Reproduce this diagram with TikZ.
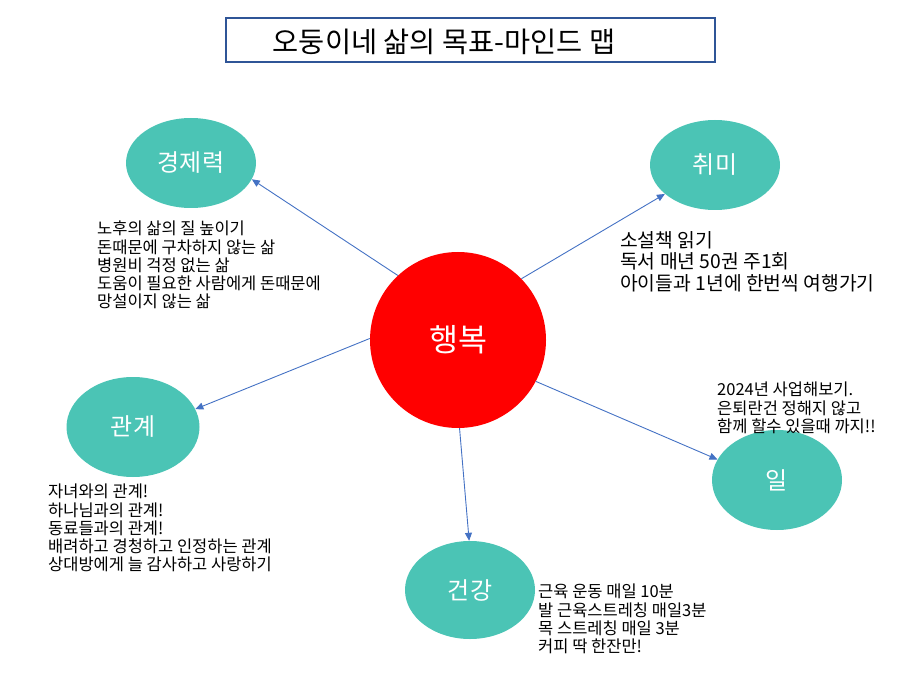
\documentclass[tikz,border=0pt]{standalone}
\usepackage{fontspec}
\setmainfont{Noto Sans CJK KR}
\usetikzlibrary{arrows.meta, shapes.geometric}
\definecolor{bubbleteal}{RGB}{75,196,181}
\definecolor{linkblue}{RGB}{68,114,196}
\definecolor{frameblue}{RGB}{47,85,151}
\tikzset{%
  >={Triangle[width=7pt,length=8pt]},
  % Specifications for style of nodes:
	base/.style = {align=center, inner sep=0pt},
	hub/.style = {base, circle, fill=red, text=white,
                  minimum size=176pt, font=\fontsize{31.5}{36}\selectfont},
	bubble/.style = {base, ellipse, fill=bubbleteal, text=white,
                  minimum width=130pt, minimum height=90pt,
                  font=\fontsize{24}{28}\selectfont},
	note/.style = {align=left, inner sep=0pt, anchor=north west,
                  font=\fontsize{16.5}{18.2}\selectfont},
	bignote/.style = {note, font=\fontsize{19.3}{21.5}\selectfont},
	frame/.style = {draw=frameblue, line width=2.5pt,
                  minimum width=489pt, minimum height=44pt},
	link/.style = {->, draw=linkblue, line width=0.9pt}
}

\begin{document}
\begin{tikzpicture}[x=1pt, y=-1pt]
  \useasboundingbox (0,0) rectangle (912,684);
  % Title
  \node (frame) [frame] at (470.5,40) {};
  \node (title) [font=\fontsize{28.4}{32}\selectfont] at (444,42) {오둥이네 삶의 목표-마인드 맵};

  % Centre and branches
  \node (happy) [hub] at (458,340) {행복};
  \node (money) [bubble] at (191,163) {경제력};
  \node (hobby) [bubble] at (715,165) {취미};
  \node (people) [bubble, minimum width=133pt, minimum height=100pt] at (133,427) {관계};
  \node (work) [bubble, minimum height=100pt] at (777,480) {일};
  \node (health) [bubble, minimum height=98pt] at (470,590) {건강};

  % Notes next to the branches
  \node (moneytxt) [note] at (97,221) {노후의 삶의 질 높이기\\ 돈때문에 구차하지 않는 삶\\ 병원비 걱정 없는 삶\\ 도움이 필요한 사람에게 돈때문에\\ 망설이지 않는 삶};
  \node (hobbytxt) [bignote] at (620,231) {소설책 읽기\\ 독서 매년 50권 주1회\\ 아이들과 1년에 한번씩 여행가기};
  \node (worktxt) [note] at (717,382) {2024년 사업해보기.\\ 은퇴란건 정해지 않고\\ 함께 할수 있을때 까지!!};
  \node (peopletxt) [note] at (48,484) {자녀와의 관계!\\ 하나님과의 관계!\\ 동료들과의 관계!\\ 배려하고 경청하고 인정하는 관계\\ 상대방에게 늘 감사하고 사랑하기};
  \node (healthtxt) [note] at (538,584) {근육 운동 매일 10분\\ 발 근육스트레칭 매일3분\\ 목 스트레칭 매일 3분\\ 커피 딱 한잔만!};

  % Connectors
  \draw [link] (happy.133) -- (money.-15);
  \draw [link] (happy.44) -- (hobby.210);
  \draw [link] (happy.179) -- (people.16);
  \draw [link] (happy.-28) -- (work.161);
  \draw [link] (happy.-89) -- (health.91);
\end{tikzpicture}
\end{document}
